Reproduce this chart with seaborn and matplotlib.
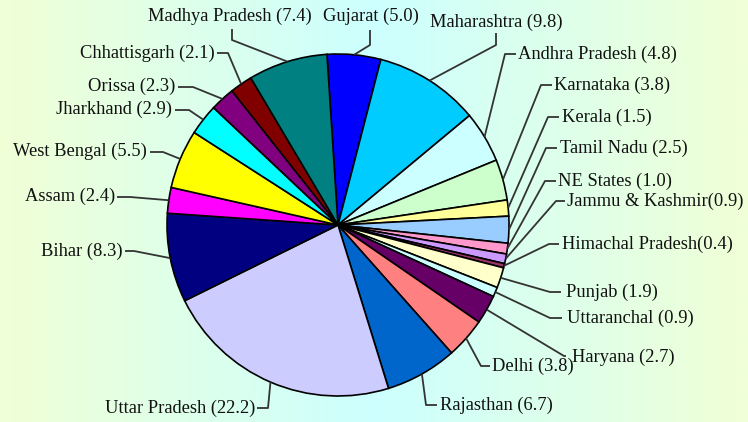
import matplotlib.pyplot as plt
import numpy as np
import seaborn as sns
from matplotlib.colors import LinearSegmentedColormap

# shares by state, clockwise from the top of the pie
states = [
    'Gujarat', 'Maharashtra', 'Andhra Pradesh', 'Karnataka', 'Kerala',
    'Tamil Nadu', 'NE States', 'Jammu & Kashmir', 'Himachal Pradesh',
    'Punjab', 'Uttaranchal', 'Haryana', 'Delhi', 'Rajasthan',
    'Uttar Pradesh', 'Bihar', 'Assam', 'West Bengal', 'Jharkhand',
    'Orissa', 'Chhattisgarh', 'Madhya Pradesh',
]
shares = [5.0, 9.8, 4.8, 3.8, 1.5, 2.5, 1.0, 0.9, 0.4, 1.9, 0.9, 2.7, 3.8,
          6.7, 22.2, 8.3, 2.4, 5.5, 2.9, 2.3, 2.1, 7.4]
colors = [
    '#0000FF', '#00CCFF', '#CCFFFF', '#CCFFCC', '#FFFF99', '#99CCFF',
    '#FF99CC', '#CC99FF', '#993366', '#FFFFCC', '#CCFFFF', '#660066',
    '#FF8080', '#0066CC', '#CCCCFF', '#000080', '#FF00FF', '#FFFF00',
    '#00FFFF', '#800080', '#800000', '#008080',
]
no_space = {'Jammu & Kashmir', 'Himachal Pradesh'}

W, H = 748, 422
CENTER = (338, H - 225)
RADIUS = 171

# label placement in image pixels (from top-left):
# text anchor, horizontal alignment, leader bend, leader end
layout = {
    'Gujarat': ((371, 16), 'center', (370, 45), (370, 30)),
    'Maharashtra': ((496, 22), 'center', (496, 45), (496, 33)),
    'Andhra Pradesh': ((518, 54), 'left', (505, 54), (516, 54)),
    'Karnataka': ((554, 85), 'left', (541, 85), (552, 85)),
    'Kerala': ((562, 117), 'left', (548, 117), (559, 117)),
    'Tamil Nadu': ((560, 148), 'left', (546, 148), (557, 148)),
    'NE States': ((558, 181), 'left', (545, 181), (556, 181)),
    'Jammu & Kashmir': ((567, 201), 'left', (556, 201), (565, 201)),
    'Himachal Pradesh': ((562, 244), 'left', (549, 244), (559, 244)),
    'Punjab': ((566, 292), 'left', (550, 292), (561, 292)),
    'Uttaranchal': ((567, 318), 'left', (550, 318), (562, 318)),
    'Haryana': ((572, 357), 'left', (564, 356), (566, 356)),
    'Delhi': ((492, 366), 'left', (481, 366), (490, 366)),
    'Rajasthan': ((440, 405), 'left', (426, 405), (437, 405)),
    'Uttar Pradesh': ((255, 408), 'right', (268, 408), (257, 408)),
    'Bihar': ((123, 251), 'right', (134, 251), (125, 251)),
    'Assam': ((115, 196), 'right', (130, 197), (117, 197)),
    'West Bengal': ((147, 151), 'right', (163, 152), (150, 152)),
    'Jharkhand': ((172, 109), 'right', (189, 110), (175, 110)),
    'Orissa': ((175, 86), 'right', (193, 87), (178, 87)),
    'Chhattisgarh': ((215, 53), 'right', (228, 53), (217, 53)),
    'Madhya Pradesh': ((230, 16), 'center', (232, 40), (232, 29)),
}

sns.set_theme(style='white')
plt.rcParams['font.family'] = ['Liberation Serif', 'DejaVu Serif']

fig = plt.figure(figsize=(W / 100, H / 100), dpi=100)
ax = fig.add_axes([0, 0, 1, 1])

# horizontal background gradient: pale yellow-green -> pale cyan -> back
bg_cmap = LinearSegmentedColormap.from_list(
    'bg', ['#F0FFD6', '#CCFFFF', '#F0FFD6'])
ax.imshow(np.linspace(0, 1, 256)[None, :], cmap=bg_cmap, aspect='auto',
          extent=(0, W, 0, H), zorder=0)

wedges, _ = ax.pie(
    shares, colors=colors, startangle=93.7, counterclock=False,
    center=CENTER, radius=RADIUS,
    wedgeprops=dict(edgecolor='black', linewidth=1.2),
)

for wedge, name, value in zip(wedges, states, shares):
    mid = np.deg2rad((wedge.theta1 + wedge.theta2) / 2)
    px = CENTER[0] + RADIUS * np.cos(mid)
    py = CENTER[1] + RADIUS * np.sin(mid)
    (tx, ty), ha, (bx, by), (ex, ey) = layout[name]
    ax.plot([px, bx, ex], [py, H - by, H - ey], color='#333333', lw=1.3,
            zorder=3, solid_capstyle='butt')
    sep = '' if name in no_space else ' '
    ax.text(tx, H - ty, f'{name}{sep}({value:.1f})', ha=ha, va='center',
            fontsize=13.3, color='#111111', zorder=4)

ax.set_xlim(0, W)
ax.set_ylim(0, H)
ax.set_aspect('equal')
ax.axis('off')

fig.savefig('out.png', dpi=100)
